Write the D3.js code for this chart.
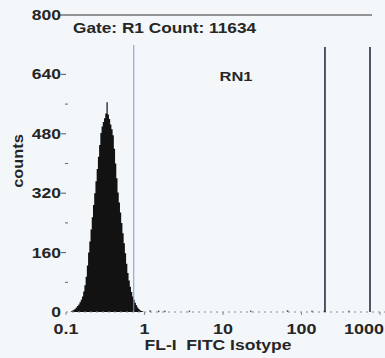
<!DOCTYPE html>
<html><head><meta charset="utf-8">
<script src="https://cdn.jsdelivr.net/npm/d3@7"></script>
<style>body{margin:0;background:#f4f7fa;}svg{display:block;}text{white-space:pre;}</style>
</head><body>
<script>
// Histogram: channel (256 channels over 4 decades) and counts
const channels = [4,5,6,7,8,9,10,11,12,13,14,15,16,17,18,19,20,21,22,23,24,25,26,27,28,29,30,31,32,33,34,35,36,37,38,39,40,41,42,43,44,45,46,47,48,49,50,51,52,53,54,55,56,57,58,59,60,61,62,68,75,80,100,150,180,200,210,230];
const counts   = [2,4,6,9,12,16,20,26,33,42,55,72,95,125,160,190,222,255,288,320,352,385,418,450,482,500,512,522,535,565,532,520,505,492,476,440,400,360,322,295,268,240,212,185,158,130,105,85,68,54,42,33,25,18,12,8,5,3,2,2,1,1,1,1,2,1,1,1];
const xTicks = [0.1, 1, 10, 100, 1000];
const xTickLabels = ["0.1","1","10","100","1000"];
const yTicks = [0,160,320,480,640,800];
const yMinorTicks = [80,240,400,560];
const markerBlue = [0.73];
const markersDark = [199, 746];
const gateText = "Gate: R1 Count: 11634";
const regionLabel = "RN1";
const xTitle = "FL-I  FITC Isotype";
const yTitle = "counts";

const W=385,H=358;
const svg=d3.select("body").append("svg").attr("width",W).attr("height",H);
const x=d3.scaleLog().domain([0.1,1000]).range([66,380]);
const y=d3.scaleLinear().domain([0,800]).range([312,15]);
const chVal=c=>0.1*Math.pow(10,c*4/256);
const font="Liberation Sans, Arial, sans-serif";
const txt="#262626";

function label(sel,s,size,stretch){
  const t=sel.append("text").attr("font-family",font).attr("font-weight","bold").attr("font-size",size).attr("fill",txt).text(s);
  const w=t.node().getComputedTextLength();
  t.attr("textLength",w*stretch).attr("lengthAdjust","spacingAndGlyphs");
  return t;
}

// histogram as step area
const main=[];
for(let i=0;i<channels.length;i++){ if(channels[i]<=62){main.push([chVal(channels[i]),counts[i]]);main.push([chVal(channels[i]+1),counts[i]]);} }
const area=d3.area().x(d=>x(d[0])).y0(y(0)).y1(d=>y(d[1]));
svg.append("path").datum(main).attr("d",area).attr("fill","#121212");
// sparse events
channels.forEach((c,i)=>{ if(c>62){ svg.append("rect").attr("x",x(chVal(c))).attr("y",y(counts[i])-1).attr("width",1.5).attr("height",Math.max(1.5,y(0)-y(counts[i])+1)).attr("fill","#555"); }});

// baseline (faint dotted)
svg.append("line").attr("x1",x(0.1)).attr("x2",W).attr("y1",y(0)).attr("y2",y(0)).attr("stroke","#888").attr("stroke-width",1).attr("stroke-dasharray","2,4");
// top line
svg.append("line").attr("x1",60).attr("x2",372).attr("y1",y(800)).attr("y2",y(800)).attr("stroke","#333").attr("stroke-width",1.2);

// markers
markerBlue.forEach(v=>svg.append("line").attr("x1",x(v)).attr("x2",x(v)).attr("y1",45).attr("y2",y(0)).attr("stroke","#7f95d8").attr("stroke-width",1));
markersDark.forEach(v=>svg.append("line").attr("x1",x(v)).attr("x2",x(v)).attr("y1",47).attr("y2",y(0)).attr("stroke","#1e1e3a").attr("stroke-width",1.5));

// y ticks
const ya=svg.append("g");
yTicks.forEach(t=>{
  label(ya,String(t),14,1.25).attr("x",61).attr("y",y(t)+5).attr("text-anchor","end");
  if(t>0&&t<800) ya.append("line").attr("x1",61).attr("x2",66).attr("y1",y(t)).attr("y2",y(t)).attr("stroke","#555");
});
yMinorTicks.forEach(t=>ya.append("line").attr("x1",65).attr("x2",68).attr("y1",y(t)).attr("y2",y(t)).attr("stroke","#666"));

// x tick labels
xTicks.forEach((t,i)=>{
  const last=i===xTicks.length-1;
  label(svg,xTickLabels[i],14,1.28).attr("x",last?384:x(t)).attr("y",334).attr("text-anchor",last?"end":"middle");
  svg.append("line").attr("x1",x(t)).attr("x2",x(t)).attr("y1",y(0)).attr("y2",y(0)+3).attr("stroke","#888");
});

// texts
label(svg,gateText,15,1.15).attr("x",73).attr("y",33);
label(svg,regionLabel,13,1.27).attr("x",236).attr("y",81).attr("text-anchor","middle");
label(svg,yTitle,14,1.17).attr("transform","translate(23,161) rotate(-90)").attr("text-anchor","middle");
label(svg,xTitle,14,1.25).attr("x",218).attr("y",350).attr("text-anchor","middle");
</script>
</body></html>
